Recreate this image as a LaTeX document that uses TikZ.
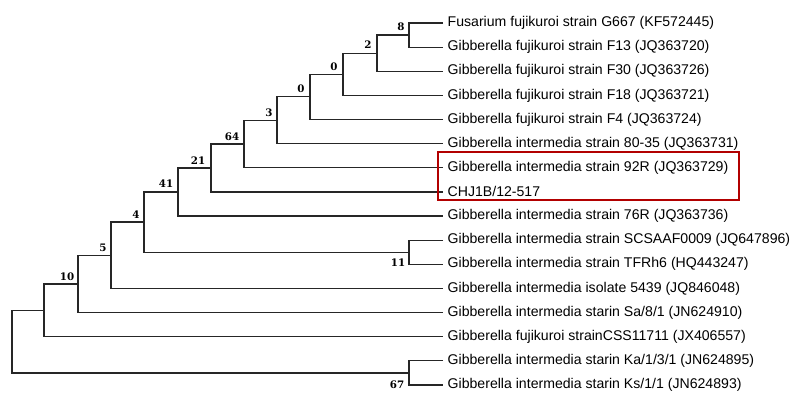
\documentclass[tikz,border=0pt]{standalone}
\usepackage{fontspec}
\setmainfont{Liberation Sans}
\newfontfamily\labfont{DejaVu Serif}
\begin{document}
\begin{tikzpicture}[x=1pt,y=-1pt,
  branch/.style={draw=black!85, line width=1.2pt},
  leaf/.style={anchor=west, inner xsep=4.5pt, inner ysep=0pt, font=\fontsize{14.1}{15}\selectfont},
  boot/.style={font=\labfont\bfseries\fontsize{10.3}{11}\selectfont, inner sep=0pt},
  hilite/.style={draw=red!70!black, line width=1.3pt}]
\useasboundingbox (0,0) rectangle (800,403);
% leaves
\foreach \i/\t in {1/{Fusarium fujikuroi strain G667 (KF572445)},
  2/{Gibberella fujikuroi strain F13 (JQ363720)},
  3/{Gibberella fujikuroi strain F30 (JQ363726)},
  4/{Gibberella fujikuroi strain F18 (JQ363721)},
  5/{Gibberella fujikuroi strain F4 (JQ363724)},
  6/{Gibberella intermedia strain 80-35 (JQ363731)},
  7/{Gibberella intermedia strain 92R (JQ363729)},
  8/{CHJ1B/12-517},
  9/{Gibberella intermedia strain 76R (JQ363736)},
  10/{Gibberella intermedia strain SCSAAF0009 (JQ647896)},
  11/{Gibberella intermedia strain TFRh6 (HQ443247)},
  12/{Gibberella intermedia isolate 5439 (JQ846048)},
  13/{Gibberella intermedia starin Sa/8/1 (JN624910)},
  14/{Gibberella fujikuroi strainCSS11711 (JX406557)},
  15/{Gibberella intermedia starin Ka/1/3/1 (JN624895)},
  16/{Gibberella intermedia starin Ks/1/1 (JN624893)}}
  \node[leaf] (L\i) at (443,{23+24.13*(\i-1)}) {\t};
% internal nodes
\coordinate (n8)  at (409,35.1);
\coordinate (n2)  at (377,53.2);
\coordinate (n0a) at (343,74.3);
\coordinate (n0b) at (310,96.9);
\coordinate (n3)  at (277,120.3);
\coordinate (n64) at (244,144.0);
\coordinate (n21) at (211,168.0);
\coordinate (n41) at (178,192.0);
\coordinate (n11) at (409,252.2);
\coordinate (n4)  at (144,222.1);
\coordinate (n5)  at (111,255.3);
\coordinate (n10) at (78,283.9);
\coordinate (nI)  at (44,310.3);
\coordinate (n67) at (409,372.9);
\coordinate (root) at (12,341.6);
% branches
\draw[branch] (L1.west) -| (n8) |- (L2.west);
\draw[branch] (n8) -| (n2) |- (L3.west);
\draw[branch] (n2) -| (n0a) |- (L4.west);
\draw[branch] (n0a) -| (n0b) |- (L5.west);
\draw[branch] (n0b) -| (n3) |- (L6.west);
\draw[branch] (n3) -| (n64) |- (L7.west);
\draw[branch] (n64) -| (n21) |- (L8.west);
\draw[branch] (n21) -| (n41) |- (L9.west);
\draw[branch] (L10.west) -| (n11) |- (L11.west);
\draw[branch] (n41) -| (n4) |- (n11);
\draw[branch] (n4) -| (n5) |- (L12.west);
\draw[branch] (n5) -| (n10) |- (L13.west);
\draw[branch] (n10) -| (nI) |- (L14.west);
\draw[branch] (L15.west) -| (n67) |- (L16.west);
\draw[branch] (nI) -| (root) |- (n67);
% bootstrap labels
\node[boot] (b8)  at (401,27) {8};
\node[boot] (b2)  at (368,45) {2};
\node[boot] (b0a) at (334,67) {0};
\node[boot] (b0b) at (301,89) {0};
\node[boot] (b3)  at (269,113) {3};
\node[boot] (b64) at (232,137) {64};
\node[boot] (b21) at (198,161) {21};
\node[boot] (b41) at (166,184) {41};
\node[boot] (b4)  at (136,215) {4};
\node[boot] (b11) at (398,263) {11};
\node[boot] (b5)  at (103,248) {5};
\node[boot] (b10) at (67,277) {10};
\node[boot] (b67) at (397,385) {67};
% highlight box
\draw[hilite] (438,152) rectangle (739,200);
\end{tikzpicture}
\end{document}
